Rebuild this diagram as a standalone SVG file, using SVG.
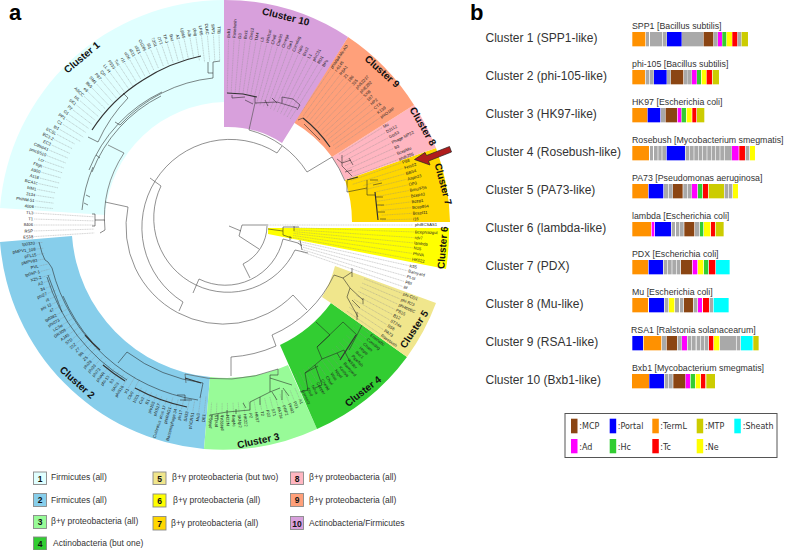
<svg xmlns="http://www.w3.org/2000/svg" width="787" height="550" viewBox="0 0 787 550">
<style>
text{font-family:"Liberation Sans",Arial,sans-serif;fill:#222}
.big{font-weight:bold;font-size:22px;fill:#000}
.cl{font-weight:bold;font-size:10px;text-anchor:middle;fill:#111}
.name{font-size:12px;fill:#333}
.ttl{font-size:8.8px;fill:#333}
.lg{font-size:8.5px;fill:#333}
.num{font-size:8.5px;font-weight:bold;text-anchor:middle;fill:#111}
.key{font-family:"DejaVu Sans",sans-serif;font-size:8px;fill:#333}
.sq{stroke:#888;stroke-width:.9}
.leaf text{font-size:4.2px;fill:#222}
.leaf path{fill:none;stroke:#8a8a8a;stroke-width:.35;stroke-dasharray:1.2 .5}
.L text{text-anchor:end}
.bb path{fill:none;stroke:#555;stroke-width:.65}
.tr path{fill:none;stroke:#222;stroke-width:.55}
.tr .th{stroke-width:1.2;stroke:#333}
.o{fill:#FF9100}.u{fill:#0000FF}.b{fill:#8B4513}.g{fill:#A9A9A9}.m{fill:#FF00FF}.n{fill:#32CD32}.y{fill:#FFFF00}.r{fill:#FF0000}.v{fill:#CCCC00}.c{fill:#00FFFF}
</style>
<text class="big" x="9" y="20">a</text>
<text class="big" x="470" y="20">b</text>

<g id="cluster1">
<path fill="#E0FFFF" d="M0 208A225 225 0 0 1 224 0L224 102A123 123 0 0 0 105 215Z"/>
<g class="leaf L" transform="translate(224 225)">
<g transform="rotate(5.5)"><path d="M-190 0H-172"/><text x="-191" y="1.4">4006</text></g>
<g transform="rotate(7.3)"><path d="M-190 0H-172"/><text x="-191" y="1.4">PhiNM-51</text></g>
<g transform="rotate(9)"><path d="M-190 0H-172"/><text x="-191" y="1.4">3134</text></g>
<g transform="rotate(10.8)"><path d="M-190 0H-172"/><text x="-191" y="1.4">bIM1</text></g>
<g transform="rotate(12.6)"><path d="M-190 0H-170"/><text x="-191" y="1.4">BCA1c</text></g>
<g transform="rotate(14.3)"><path d="M-190 0H-170"/><text x="-191" y="1.4">A118</text></g>
<g transform="rotate(16.1)"><path d="M-190 0H-170"/><text x="-191" y="1.4">A500</text></g>
<g transform="rotate(17.9)"><path d="M-190 0H-170"/><text x="-191" y="1.4">Ffigh</text></g>
<g transform="rotate(19.6)"><path d="M-190 0H-170"/><text x="-191" y="1.4">Lcr</text></g>
<g transform="rotate(21.4)"><path d="M-190 0H-170"/><text x="-191" y="1.4">pmcE510</text></g>
<g transform="rotate(23.2)"><path d="M-190 0H-170"/><text x="-191" y="1.4">Cdtsp41</text></g>
<g transform="rotate(24.9)"><path d="M-190 0H-170"/><text x="-191" y="1.4">EC3</text></g>
<g transform="rotate(26.7)"><path d="M-190 0H-170"/><text x="-191" y="1.4">EC3-2</text></g>
<g transform="rotate(28.5)"><path d="M-190 0H-170"/><text x="-191" y="1.4">ECSL</text></g>
<g transform="rotate(30.2)"><path d="M-190 0H-166"/><text x="-191" y="1.4">Ip1</text></g>
<g transform="rotate(32)"><path d="M-190 0H-166"/><text x="-191" y="1.4">C1</text></g>
<g transform="rotate(33.8)"><path d="M-190 0H-166"/><text x="-191" y="1.4">PP1</text></g>
<g transform="rotate(35.5)"><path d="M-190 0H-166"/><text x="-191" y="1.4">G1</text></g>
<g transform="rotate(37.3)"><path d="M-190 0H-166"/><text x="-191" y="1.4">P2</text></g>
<g transform="rotate(39.1)"><path d="M-190 0H-166"/><text x="-191" y="1.4">SK1</text></g>
<g transform="rotate(40.8)"><path d="M-190 0H-166"/><text x="-191" y="1.4">bIL</text></g>
<g transform="rotate(42.6)"><path d="M-190 0H-166"/><text x="-191" y="1.4">ASCC</text></g>
<g transform="rotate(44.4)"><path d="M-190 0H-166"/><text x="-191" y="1.4">e6</text></g>
<g transform="rotate(46.1)"><path d="M-190 0H-166"/><text x="-191" y="1.4">Bk5</text></g>
<g transform="rotate(47.9)"><path d="M-190 0H-166"/><text x="-191" y="1.4">SM1</text></g>
<g transform="rotate(49.7)"><path d="M-190 0H-166"/><text x="-191" y="1.4">P87</text></g>
<g transform="rotate(51.4)"><path d="M-190 0H-166"/><text x="-191" y="1.4">QP</text></g>
<g transform="rotate(53.2)"><path d="M-190 0H-166"/><text x="-191" y="1.4">LL-H</text></g>
<g transform="rotate(55)"><path d="M-190 0H-166"/><text x="-191" y="1.4">P335</text></g>
<g transform="rotate(56.7)"><path d="M-190 0H-166"/><text x="-191" y="1.4">Tuc</text></g>
<g transform="rotate(58.5)"><path d="M-190 0H-168"/><text x="-191" y="1.4">r1t</text></g>
<g transform="rotate(60.3)"><path d="M-190 0H-168"/><text x="-191" y="1.4">ul36</text></g>
<g transform="rotate(62)"><path d="M-190 0H-168"/><text x="-191" y="1.4">sfi11</text></g>
<g transform="rotate(63.8)"><path d="M-190 0H-168"/><text x="-191" y="1.4">sfi21</text></g>
<g transform="rotate(65.6)"><path d="M-190 0H-170"/><text x="-191" y="1.4">O1205</text></g>
<g transform="rotate(67.3)"><path d="M-190 0H-170"/><text x="-191" y="1.4">Sl1</text></g>
<g transform="rotate(69.1)"><path d="M-190 0H-170"/><text x="-191" y="1.4">7201</text></g>
<g transform="rotate(70.9)"><path d="M-190 0H-170"/><text x="-191" y="1.4">DT1</text></g>
<g transform="rotate(72.6)"><path d="M-190 0H-170"/><text x="-191" y="1.4">TP-J</text></g>
<g transform="rotate(74.4)"><path d="M-190 0H-170"/><text x="-191" y="1.4">Bxz</text></g>
<g transform="rotate(76.2)"><path d="M-190 0H-170"/><text x="-191" y="1.4">A2</text></g>
<g transform="rotate(77.9)"><path d="M-190 0H-170"/><text x="-191" y="1.4">Lj965</text></g>
<g transform="rotate(79.7)"><path d="M-190 0H-170"/><text x="-191" y="1.4">Adh</text></g>
<g transform="rotate(81.5)"><path d="M-190 0H-166"/><text x="-191" y="1.4">phig</text></g>
<g transform="rotate(83.2)"><path d="M-190 0H-164"/><text x="-191" y="1.4">LP65</text></g>
<g transform="rotate(85)"><path d="M-190 0H-164"/><text x="-191" y="1.4">DLKC</text></g>
<g transform="rotate(86.8)"><path d="M-190 0H-164"/><text x="-191" y="1.4">SPP1</text></g>
<g transform="rotate(88.5)"><path d="M-190 0H-164"/><text x="-191" y="1.4">TTB</text></g>
</g>
<text class="cl" transform="translate(84 60) rotate(-40)">Cluster 1</text>
</g>

<g id="cluster-other" class="leaf L" transform="translate(224 225)">
<g transform="rotate(3.6)"><path d="M-190 0H-130"/><text x="-191" y="1.4">TL3</text></g>
<g transform="rotate(1.8)"><path d="M-190 0H-130"/><text x="-191" y="1.4">T1</text></g>
<g><path d="M-190 0H-130"/><text x="-191" y="1.4">8406</text></g>
<g transform="rotate(-1.8)"><path d="M-190 0H-130"/><text x="-191" y="1.4">RSP</text></g>
<g transform="rotate(-3.5)"><path d="M-190 0H-130"/><text x="-191" y="1.4">ES18</text></g>
</g>

<g id="cluster2">
<path fill="#87CEEB" d="M204 449A225 225 0 0 1 0 242L72 236A153 153 0 0 0 210 377Z"/>
<g class="leaf L" transform="translate(224 225)">
<g transform="rotate(-84)"><path d="M-189 0H-172"/><text x="-190" y="1.4">DE1</text></g>
<g transform="rotate(-82.3)"><path d="M-189 0H-172"/><text x="-190" y="1.4">Mu3</text></g>
<g transform="rotate(-80.5)"><path d="M-189 0H-178"/><text x="-190" y="1.4">phiCRS1</text></g>
<g transform="rotate(-78.8)"><path d="M-189 0H-178"/><text x="-190" y="1.4">SA33</text></g>
<g transform="rotate(-77)"><path d="M-189 0H-178"/><text x="-190" y="1.4">phi17</text></g>
<g transform="rotate(-75.3)"><path d="M-189 0H-180"/><text x="-190" y="1.4">Bacteriophage 34</text></g>
<g transform="rotate(-73.5)"><path d="M-189 0H-180"/><text x="-190" y="1.4">phiRAG1</text></g>
<g transform="rotate(-71.8)"><path d="M-189 0H-182"/><text x="-190" y="1.4">Cuthrotus virus 17</text></g>
<g transform="rotate(-70)"><path d="M-189 0H-182"/><text x="-190" y="1.4">phiS17</text></g>
<g transform="rotate(-68.3)"><path d="M-189 0H-182"/><text x="-190" y="1.4">phi105</text></g>
<g transform="rotate(-66.6)"><path d="M-189 0H-182"/><text x="-190" y="1.4">B1</text></g>
<g transform="rotate(-64.8)"><path d="M-189 0H-182"/><text x="-190" y="1.4">Cv2</text></g>
<g transform="rotate(-63.1)"><path d="M-189 0H-182"/><text x="-190" y="1.4">1001</text></g>
<g transform="rotate(-61.3)"><path d="M-189 0H-176"/><text x="-190" y="1.4">Cfv9</text></g>
<g transform="rotate(-59.6)"><path d="M-189 0H-176"/><text x="-190" y="1.4">X1</text></g>
<g transform="rotate(-57.8)"><path d="M-189 0H-180"/><text x="-190" y="1.4">phiS16</text></g>
<g transform="rotate(-56.1)"><path d="M-189 0H-180"/><text x="-190" y="1.4">SA03</text></g>
<g transform="rotate(-54.3)"><path d="M-189 0H-180"/><text x="-190" y="1.4">93</text></g>
<g transform="rotate(-52.6)"><path d="M-189 0H-180"/><text x="-190" y="1.4">phi-13</text></g>
<g transform="rotate(-50.9)"><path d="M-189 0H-180"/><text x="-190" y="1.4">phiAR</text></g>
<g transform="rotate(-49.1)"><path d="M-189 0H-180"/><text x="-190" y="1.4">phi73</text></g>
<g transform="rotate(-47.4)"><path d="M-189 0H-180"/><text x="-190" y="1.4">phi39</text></g>
<g transform="rotate(-45.6)"><path d="M-189 0H-180"/><text x="-190" y="1.4">phi28</text></g>
<g transform="rotate(-43.9)"><path d="M-189 0H-178"/><text x="-190" y="1.4">Z5</text></g>
<g transform="rotate(-42.1)"><path d="M-189 0H-178"/><text x="-190" y="1.4">9R</text></g>
<g transform="rotate(-40.4)"><path d="M-189 0H-178"/><text x="-190" y="1.4">Z7</text></g>
<g transform="rotate(-38.7)"><path d="M-189 0H-178"/><text x="-190" y="1.4">22Z</text></g>
<g transform="rotate(-36.9)"><path d="M-189 0H-178"/><text x="-190" y="1.4">57D</text></g>
<g transform="rotate(-35.2)"><path d="M-189 0H-178"/><text x="-190" y="1.4">AJ45</text></g>
<g transform="rotate(-33.4)"><path d="M-189 0H-178"/><text x="-190" y="1.4">GR309</text></g>
<g transform="rotate(-31.7)"><path d="M-189 0H-178"/><text x="-190" y="1.4">LC3w</text></g>
<g transform="rotate(-29.9)"><path d="M-189 0H-178"/><text x="-190" y="1.4">phi073</text></g>
<g transform="rotate(-28.2)"><path d="M-189 0H-178"/><text x="-190" y="1.4">tp0382</text></g>
<g transform="rotate(-26.4)"><path d="M-189 0H-180"/><text x="-190" y="1.4">47</text></g>
<g transform="rotate(-24.7)"><path d="M-189 0H-180"/><text x="-190" y="1.4">phi 12</text></g>
<g transform="rotate(-23)"><path d="M-189 0H-180"/><text x="-190" y="1.4">rlt</text></g>
<g transform="rotate(-21.2)"><path d="M-189 0H-180"/><text x="-190" y="1.4">phi27</text></g>
<g transform="rotate(-19.5)"><path d="M-189 0H-182"/><text x="-190" y="1.4">34</text></g>
<g transform="rotate(-17.7)"><path d="M-189 0H-182"/><text x="-190" y="1.4">A2</text></g>
<g transform="rotate(-16)"><path d="M-189 0H-180"/><text x="-190" y="1.4">X25-2</text></g>
<g transform="rotate(-14.2)"><path d="M-189 0H-180"/><text x="-190" y="1.4">tp0SP-1</text></g>
<g transform="rotate(-12.5)"><path d="M-189 0H-180"/><text x="-190" y="1.4">PVL</text></g>
<g transform="rotate(-10.7)"><path d="M-189 0H-182"/><text x="-190" y="1.4">pMPV83</text></g>
<g transform="rotate(-9)"><path d="M-189 0H-182"/><text x="-190" y="1.4">pFL15</text></g>
<g transform="rotate(-7.3)"><path d="M-189 0H-182"/><text x="-190" y="1.4">pMPV1_108</text></g>
<g transform="rotate(-5.5)"><path d="M-189 0H-182"/><text x="-190" y="1.4">tp0320</text></g>
</g>
<text class="cl" transform="translate(75 385) rotate(42)">Cluster 2</text>
</g>

<g id="cluster3">
<path fill="#98FB98" d="M317 429A225 225 0 0 1 204 449L210 377A153 153 0 0 0 288 365Z"/>
<g class="leaf" transform="translate(224 225)">
<g transform="rotate(66.5)"><path d="M178 0H189"/><text x="190" y="1.4">A1</text></g>
<g transform="rotate(68.2)"><path d="M178 0H189"/><text x="190" y="1.4">P21</text></g>
<g transform="rotate(69.9)"><path d="M178 0H189"/><text x="190" y="1.4">PH82</text></g>
<g transform="rotate(71.7)"><path d="M178 0H189"/><text x="190" y="1.4">PRF2</text></g>
<g transform="rotate(73.4)"><path d="M178 0H189"/><text x="190" y="1.4">PA73c</text></g>
<g transform="rotate(75.1)"><path d="M178 0H189"/><text x="190" y="1.4">ST1</text></g>
<g transform="rotate(76.8)"><path d="M178 0H189"/><text x="190" y="1.4">P22</text></g>
<g transform="rotate(78.5)"><path d="M178 0H189"/><text x="190" y="1.4">T2</text></g>
<g transform="rotate(80.3)"><path d="M178 0H189"/><text x="190" y="1.4">HK97</text></g>
<g transform="rotate(82)"><path d="M178 0H189"/><text x="190" y="1.4">P2</text></g>
<g transform="rotate(83.7)"><path d="M178 0H189"/><text x="190" y="1.4">HK022</text></g>
<g transform="rotate(85.4)"><path d="M178 0H189"/><text x="190" y="1.4">SKNp2</text></g>
<g transform="rotate(87.1)"><path d="M178 0H189"/><text x="190" y="1.4">Bag4c</text></g>
<g transform="rotate(88.9)"><path d="M178 0H189"/><text x="190" y="1.4">N22N</text></g>
</g>
<g class="leaf L" transform="translate(224 225)">
<g transform="rotate(-89.4)"><path d="M-189 0H-178"/><text x="-190" y="1.4">phi92Ab</text></g>
<g transform="rotate(-87.7)"><path d="M-189 0H-178"/><text x="-190" y="1.4">phi115</text></g>
<g transform="rotate(-86)"><path d="M-189 0H-178"/><text x="-190" y="1.4">phi66-2</text></g>
</g>
<text class="cl" transform="translate(259 444) rotate(-12)">Cluster 3</text>
</g>

<g id="cluster4">
<path fill="#32CD32" d="M407 357A225 225 0 0 1 317 429L280 345A133 133 0 0 0 331 303Z"/>
<g class="leaf" transform="translate(224 225)">
<g transform="rotate(36.8)"><path d="M165 0H182"/><text x="183" y="1.4">Erwinabc</text></g>
<g transform="rotate(38.5)"><path d="M165 0H182"/><text x="183" y="1.4">Corndog</text></g>
<g transform="rotate(40.3)"><path d="M165 0H182"/><text x="183" y="1.4">Cham</text></g>
<g transform="rotate(42)"><path d="M165 0H182"/><text x="183" y="1.4">Hope</text></g>
<g transform="rotate(43.7)"><path d="M165 0H182"/><text x="183" y="1.4">Bxz1</text></g>
<g transform="rotate(45.5)"><path d="M165 0H182"/><text x="183" y="1.4">Pipefish</text></g>
<g transform="rotate(47.2)"><path d="M165 0H182"/><text x="183" y="1.4">Wilder</text></g>
<g transform="rotate(48.9)"><path d="M165 0H182"/><text x="183" y="1.4">Barnyard</text></g>
<g transform="rotate(50.7)"><path d="M165 0H182"/><text x="183" y="1.4">Kostya</text></g>
<g transform="rotate(52.4)"><path d="M165 0H182"/><text x="183" y="1.4">Nigel</text></g>
<g transform="rotate(54.1)"><path d="M165 0H182"/><text x="183" y="1.4">Wee</text></g>
<g transform="rotate(55.9)"><path d="M165 0H182"/><text x="183" y="1.4">Charl</text></g>
<g transform="rotate(57.6)"><path d="M165 0H182"/><text x="183" y="1.4">Che9d</text></g>
<g transform="rotate(59.3)"><path d="M165 0H182"/><text x="183" y="1.4">Cooper</text></g>
<g transform="rotate(61.1)"><path d="M165 0H182"/><text x="183" y="1.4">Nova</text></g>
<g transform="rotate(62.8)"><path d="M165 0H182"/><text x="183" y="1.4">Chrd</text></g>
<g transform="rotate(64.5)"><path d="M165 0H182"/><text x="183" y="1.4">Gsneelz</text></g>
</g>
<text class="cl" transform="translate(365 394) rotate(-38)">Cluster 4</text>
</g>

<g id="cluster5">
<path fill="#F0E68C" d="M436 303A225 225 0 0 1 407 357L331 303L322 297A121 121 0 0 0 335 266Z"/>
<g class="leaf" transform="translate(224 225)">
<g transform="rotate(21)"><path d="M150 0H191"/><text x="192" y="1.4">phi-CD1</text></g>
<g transform="rotate(22.8)"><path d="M150 0H191"/><text x="192" y="1.4">phi-R23</text></g>
<g transform="rotate(24.5)"><path d="M150 0H191"/><text x="192" y="1.4">phi4006C</text></g>
<g transform="rotate(26.3)"><path d="M150 0H191"/><text x="192" y="1.4">PB15</text></g>
<g transform="rotate(28)"><path d="M150 0H191"/><text x="192" y="1.4">B12</text></g>
<g transform="rotate(29.8)"><path d="M150 0H191"/><text x="192" y="1.4">ST24a</text></g>
<g transform="rotate(31.5)"><path d="M150 0H191"/><text x="192" y="1.4">SS6</text></g>
<g transform="rotate(33.3)"><path d="M150 0H191"/><text x="192" y="1.4">PA73</text></g>
<g transform="rotate(35)"><path d="M150 0H191"/><text x="192" y="1.4">Rosebush</text></g>
</g>
<text class="cl" transform="translate(417 331) rotate(-57)">Cluster 5</text>
</g>

<g id="unclustered" class="leaf" transform="translate(224 225)">
<g transform="rotate(12.4)"><path d="M76 0H189"/><text x="190" y="1.4">K55</text></g>
<g transform="rotate(14)"><path d="M76 0H189"/><text x="190" y="1.4">Barnyard</text></g>
<g transform="rotate(15.7)"><path d="M82 0H189"/><text x="190" y="1.4">PLot</text></g>
<g transform="rotate(17.4)"><path d="M82 0H189"/><text x="190" y="1.4">PBI</text></g>
<g transform="rotate(19)"><path d="M82 0H189"/><text x="190" y="1.4">Bf</text></g>
<g><path d="M44 0H189"/><text x="191" y="1.4">phiBCSAS1</text></g>
</g>

<g id="cluster6">
<path fill="#FFFF00" d="M449 228A225 225 0 0 1 446 269L268 234A45 45 0 0 0 268 228Z"/>
<g class="leaf" transform="translate(224 225)">
<g transform="rotate(2.1)"><path d="M70 0H190"/><text x="191" y="1.4">BcepNazgul</text></g>
<g transform="rotate(3.8)"><path d="M70 0H190"/><text x="191" y="1.4">rdv7</text></g>
<g transform="rotate(5.4)"><path d="M70 0H190"/><text x="191" y="1.4">lambda</text></g>
<g transform="rotate(6.9)"><path d="M70 0H190"/><text x="191" y="1.4">N15</text></g>
<g transform="rotate(8.6)"><path d="M70 0H190"/><text x="191" y="1.4">PhiVA</text></g>
<g transform="rotate(10.3)"><path d="M70 0H190"/><text x="191" y="1.4">HK022</text></g>
</g>
<text class="cl" transform="translate(446 248) rotate(-85)">Cluster 6</text>
</g>

<g id="cluster7">
<path fill="#FFD700" d="M436 148A225 225 0 0 1 450 222L352 222A128 128 0 0 0 345 180Z"/>
<g class="leaf" transform="translate(224 225)">
<g transform="rotate(-19.3)"><path d="M135 0H188"/><text x="189" y="1.4">P88</text></g>
<g transform="rotate(-17.55)"><path d="M135 0H188"/><text x="189" y="1.4">Fels02</text></g>
<g transform="rotate(-15.8)"><path d="M145 0H188"/><text x="189" y="1.4">BBS4</text></g>
<g transform="rotate(-14.05)"><path d="M145 0H188"/><text x="189" y="1.4">Aaph23</text></g>
<g transform="rotate(-12.3)"><path d="M155 0H188"/><text x="189" y="1.4">OP3</text></g>
<g transform="rotate(-10.55)"><path d="M155 0H188"/><text x="189" y="1.4">Bmu/F56</text></g>
<g transform="rotate(-8.8)"><path d="M155 0H188"/><text x="189" y="1.4">Bcep43</text></g>
<g transform="rotate(-7.05)"><path d="M158 0H188"/><text x="189" y="1.4">Bcep1</text></g>
<g transform="rotate(-5.3)"><path d="M158 0H188"/><text x="189" y="1.4">Bcep864</text></g>
<g transform="rotate(-3.55)"><path d="M158 0H188"/><text x="189" y="1.4">Bcepl11</text></g>
<g transform="rotate(-1.8)"><path d="M158 0H188"/><text x="189" y="1.4">i16</text></g>
</g>
<text class="cl" transform="translate(440 185) rotate(75)">Cluster 7</text>
</g>

<g id="cluster8">
<path fill="#FFB6C1" d="M414 105A225 225 0 0 1 436 148L345 180A129 129 0 0 0 332 157Z"/>
<g class="leaf" transform="translate(224 225)">
<g transform="rotate(-31.6)"><path d="M135 0H186"/><text x="187" y="1.4">Mu</text></g>
<g transform="rotate(-29.8)"><path d="M135 0H186"/><text x="187" y="1.4">D3112</text></g>
<g transform="rotate(-28)"><path d="M135 0H186"/><text x="187" y="1.4">Gts53</text></g>
<g transform="rotate(-26.1)"><path d="M135 0H186"/><text x="187" y="1.4">Phage MP22</text></g>
<g transform="rotate(-24.3)"><path d="M135 0H186"/><text x="187" y="1.4">B3</text></g>
<g transform="rotate(-22.4)"><path d="M135 0H186"/><text x="187" y="1.4">BcepMu</text></g>
<g transform="rotate(-20.6)"><path d="M135 0H186"/><text x="187" y="1.4">phiE255</text></g>
</g>
<text class="cl" transform="translate(420 128) rotate(60)">Cluster 8</text>
</g>

<g id="cluster9">
<path fill="#FFA07A" d="M348 37A225 225 0 0 1 414 105L332 157A127 127 0 0 0 293 122Z"/>
<g class="leaf" transform="translate(224 225)">
<g transform="rotate(-55.6)"><path d="M135 0H189"/><text x="190" y="1.4">phiMbd-Ms-AD</text></g>
<g transform="rotate(-54)"><path d="M135 0H189"/><text x="190" y="1.4">r-6145</text></g>
<g transform="rotate(-52.3)"><path d="M135 0H189"/><text x="190" y="1.4">RSA1</text></g>
<g transform="rotate(-50.7)"><path d="M135 0H189"/><text x="190" y="1.4">21</text></g>
<g transform="rotate(-49.1)"><path d="M135 0H189"/><text x="190" y="1.4">186</text></g>
<g transform="rotate(-47.5)"><path d="M135 0H189"/><text x="190" y="1.4">315</text></g>
<g transform="rotate(-45.9)"><path d="M135 0H189"/><text x="190" y="1.4">phi52237</text></g>
<g transform="rotate(-44.2)"><path d="M135 0H189"/><text x="190" y="1.4">phiE202</text></g>
<g transform="rotate(-42.6)"><path d="M135 0H189"/><text x="190" y="1.4">SXB</text></g>
<g transform="rotate(-41)"><path d="M135 0H189"/><text x="190" y="1.4">187</text></g>
<g transform="rotate(-39.4)"><path d="M135 0H189"/><text x="190" y="1.4">HP2</text></g>
<g transform="rotate(-37.8)"><path d="M135 0H189"/><text x="190" y="1.4">CTX</text></g>
<g transform="rotate(-36.1)"><path d="M135 0H189"/><text x="190" y="1.4">K139</text></g>
<g transform="rotate(-34.5)"><path d="M135 0H189"/><text x="190" y="1.4">phiO18P</text></g>
</g>
<text class="cl" transform="translate(380 74) rotate(42)">Cluster 9</text>
</g>

<g id="cluster10">
<path fill="#D8A0DC" d="M224 0A225 225 0 0 1 348 37L282 143A100 100 0 0 0 224 127Z"/>
<g class="leaf" transform="translate(224 225)">
<g transform="rotate(-88.6)"><path d="M132 0H186"/><text x="187" y="1.4">Bxb1</text></g>
<g transform="rotate(-86.9)"><path d="M132 0H186"/><text x="187" y="1.4">Rosebush</text></g>
<g transform="rotate(-85.2)"><path d="M132 0H186"/><text x="187" y="1.4">D3</text></g>
<g transform="rotate(-83.5)"><path d="M132 0H186"/><text x="187" y="1.4">Bxz1</text></g>
<g transform="rotate(-81.8)"><path d="M132 0H186"/><text x="187" y="1.4">Che12</text></g>
<g transform="rotate(-80.1)"><path d="M132 0H186"/><text x="187" y="1.4">TM4</text></g>
<g transform="rotate(-78.4)"><path d="M132 0H186"/><text x="187" y="1.4">L5</text></g>
<g transform="rotate(-76.7)"><path d="M125 0H186"/><text x="187" y="1.4">Wildcat</text></g>
<g transform="rotate(-75)"><path d="M125 0H186"/><text x="187" y="1.4">Che8</text></g>
<g transform="rotate(-73.3)"><path d="M125 0H186"/><text x="187" y="1.4">Che9d</text></g>
<g transform="rotate(-71.6)"><path d="M125 0H186"/><text x="187" y="1.4">Omega</text></g>
<g transform="rotate(-69.9)"><path d="M125 0H186"/><text x="187" y="1.4">Cjw1</text></g>
<g transform="rotate(-68.2)"><path d="M125 0H186"/><text x="187" y="1.4">Corndog</text></g>
<g transform="rotate(-66.5)"><path d="M125 0H186"/><text x="187" y="1.4">Halo</text></g>
<g transform="rotate(-64.8)"><path d="M125 0H186"/><text x="187" y="1.4">Bxz2</text></g>
<g transform="rotate(-63.1)"><path d="M125 0H186"/><text x="187" y="1.4">L1</text></g>
<g transform="rotate(-61.4)"><path d="M125 0H186"/><text x="187" y="1.4">phiC31</text></g>
<g transform="rotate(-59.7)"><path d="M125 0H186"/><text x="187" y="1.4">RD1</text></g>
<g transform="rotate(-58)"><path d="M125 0H186"/><text x="187" y="1.4">BPs</text></g>
</g>
<text class="cl" transform="translate(285 20) rotate(14)">Cluster 10</text>
</g>

<g id="connectors">
<g class="bb">
<path d="M128 207A97.5 97.5 0 0 0 293 295M128 207L105 202M293 295L307 310"/>
<path d="M272 335A121 121 0 0 0 334 275M272 335L276 346A132 132 0 0 1 231 357V376"/>
<path d="M185 374A152 152 0 0 0 278 369M185 374L186 383M278 369V375"/>
<path d="M183 302A88 88 0 1 1 277 153M183 302L179 311M277 153L282 146"/>
<path d="M249 130A98 98 0 0 1 307 172M249 130L255 103M307 172L332 157A127 127 0 0 1 345 181"/>
<path d="M150 178L161 186A74 74 0 1 0 295 250L308 253"/>
<path d="M193 293L199 279A59 59 0 0 0 283 239L298 243"/>
<path d="M250 278L243 264A43 43 0 0 0 267 226M259 249L239 236L242 225H268M229 226L241 231"/>
<path d="M105 230A119 119 0 0 1 124 153L108 145"/>
</g>
<g class="tr">
<path class="th" d="M92 130A164 164 0 0 1 143 80M143 80A170 170 0 0 1 201 56"/>
<path d="M88 137L98 142A152 152 0 0 1 128 98L123 93M115 122L120 125A146 146 0 0 1 213 78V62M208 62V73H213M213 62L220 61"/>
<path d="M89 170A146 146 0 0 1 162 92M92 172A143 143 0 0 1 161 96M82 210A143 143 0 0 1 93 167M96 155L100 158M86 195L90 197M84 203L88 205M105 220L95 220M95 214V226M95 214H92M95 226H92M105 230L100 233"/>
<path d="M127 352A160 160 0 0 0 203 383L200 398M127 352L118 363M52 268A177 177 0 0 0 198 400M47 277A183 183 0 0 0 127 380M63 296A176 176 0 0 0 92 342M39 242L42 253L45 260L48 262L52 268M48 275L62 312M177 395H185V401M180 400H192"/>
<path class="th" d="M103 365A185 185 0 0 0 125 381M135 388A186 186 0 0 0 187 407M85 335A175 175 0 0 0 100 350M185 378L201 383"/>
<path d="M278 375H270V392L250 402V410L227 412L210 415M270 378L292 385M270 392L280 388M282 390V400M227 410V416M236 409V414M243 403L246 408M260 397V405M272 392L277 400M283 388L289 396M212 415V420M218 414V420"/>
<path d="M316 322L330 335L317 347L322 359L315 365L305 373L308 390M315 365L322 385M322 359L337 353L340 358M337 353L344 350L350 362M317 347L343 322L357 335L349 350M357 335L362 325M305 373L318 366M308 390L300 392M322 385L315 388"/>
<path class="th" d="M356 335L340 360"/>
<path d="M334 275L343 278L352 272M352 268V277M343 278L350 288L347 297L358 317M350 288L363 300M352 300L360 308M363 298V304M357 312V320"/>
<path d="M268 229L283 231M283 227V235M283 227H299M294 226V231M283 235L292 238M290 236V240M298 243L302 246M300 240L302 250"/>
<path class="th" d="M347 180L358 177M375 192L378 220"/>
<path d="M347 181V192L367 188M367 180V195H375M375 197H383M377 205H384M378 212H385M380 219H386M373 185L382 183M370 180H378"/>
<path d="M337 159L342 163L351 160M342 155V166M349 158L353 165M342 166L346 170L352 176M345 172L352 170"/>
<path class="th" d="M303 118A133 133 0 0 1 330 147M227 93L243 94L257 97"/>
<path d="M304 124L320 140M298 120L303 118M232 95V98L245 97M245 100L253 104M255 103L277 102L297 108M282 97L293 99M282 97V103M293 99L300 105L297 110M265 100L268 106M272 98L277 103M255 103V97"/>
</g>
</g>

<polygon id="arrow" points="414.5,159.5 425,152.5 426.5,155.5 449.5,146.5 451.5,152 428.5,161 430,165" fill="#B01C1C" stroke="#222" stroke-width=".7"/>

<g id="legend-a">
<rect class="sq" x="33.5" y="472" width="13" height="12.5" fill="#E0FFFF"/><text class="num" x="40" y="481.5">1</text><text class="lg" x="51" y="480">Firmicutes (all)</text>
<rect class="sq" x="33.5" y="493.5" width="13" height="13" fill="#87CEEB"/><text class="num" x="40" y="503">2</text><text class="lg" x="51" y="502.5">Firmicutes (all)</text>
<rect class="sq" x="33.5" y="515.5" width="13" height="13" fill="#98FB98"/><text class="num" x="40" y="524.5">3</text><text class="lg" x="51" y="524">β+γ proteobacteria (all)</text>
<rect class="sq" x="33.5" y="537" width="13" height="13" fill="#32CD32"/><text class="num" x="40" y="546.5">4</text><text class="lg" x="53" y="545.7">Actinobacteria (but one)</text>
<rect class="sq" x="153" y="472" width="13" height="12.5" fill="#F0E68C"/><text class="num" x="159.5" y="481.5">5</text><text class="lg" x="172" y="480">β+γ proteobacteria (but two)</text>
<rect class="sq" x="153" y="494" width="13" height="13" fill="#FFFF00"/><text class="num" x="159.5" y="503.5">6</text><text class="lg" x="173" y="502.5">β+γ proteobacteria (all)</text>
<rect class="sq" x="153" y="516.5" width="13" height="13.5" fill="#FFD700"/><text class="num" x="159.5" y="526.5">7</text><text class="lg" x="171" y="526">β+γ proteobacteria (all)</text>
<rect class="sq" x="290.5" y="472" width="13" height="12.5" fill="#FFB6C1"/><text class="num" x="297" y="481.5">8</text><text class="lg" x="309" y="480">β+γ proteobacteria (all)</text>
<rect class="sq" x="290.5" y="493.5" width="13" height="13" fill="#FFA07A"/><text class="num" x="297" y="503">9</text><text class="lg" x="309" y="502.5">β+γ proteobacteria (all)</text>
<rect class="sq" x="290.5" y="516.5" width="13" height="13" fill="#D8A0DC"/><text class="num" x="297" y="526.5">10</text><text class="lg" x="309" y="526">Actinobacteria/Firmicutes</text>
</g>

<g id="panel-b">
<g id="row1"><text class="name" x="485.5" y="42">Cluster 1 (SPP1-like)</text><text class="ttl" x="632" y="29">SPP1 [Bacillus subtilis]</text>
<g transform="translate(470 32) scale(.3333)"><rect class="o" x="487" width="39" height="43"/><rect class="g" x="528" width="9" height="43"/><rect class="g" x="540" width="37" height="43"/><rect class="g" x="579" width="11" height="43"/><rect class="u" x="591" width="44" height="43"/><rect class="g" x="636" width="64" height="43"/><rect class="b" x="701" width="29" height="43"/><rect class="g" x="731" width="12" height="43"/><rect class="m" x="744" width="12" height="43"/><rect class="n" x="757" width="12" height="43"/><rect class="y" x="770" width="16" height="43"/><rect class="r" x="787" width="15" height="43"/><rect class="g" x="803" width="11" height="43"/><rect class="v" x="815" width="19" height="43"/></g></g>
<g id="row2"><text class="name" x="485.5" y="80">Cluster 2 (phi-105-like)</text><text class="ttl" x="632" y="67">phi-105 [Bacillus subtilis]</text>
<g transform="translate(470 70) scale(.3333)"><rect class="o" x="487" width="38" height="43"/><rect class="g" x="527" width="11" height="43"/><rect class="g" x="540" width="11" height="43"/><rect class="u" x="552" width="38" height="43"/><rect class="g" x="591" width="11" height="43"/><rect class="b" x="603" width="37" height="43"/><rect class="g" x="642" width="11" height="43"/><rect class="g" x="654" width="11" height="43"/><rect class="m" x="666" width="14" height="43"/><rect class="n" x="681" width="12" height="43"/><rect class="y" x="695" width="14" height="43"/><rect class="r" x="710" width="16" height="43"/><rect class="v" x="728" width="19" height="43"/></g></g>
<g id="row3"><text class="name" x="485.5" y="118">Cluster 3 (HK97-like)</text><text class="ttl" x="632" y="105">HK97 [Escherichia coli]</text>
<g transform="translate(470 108) scale(.3333)"><rect class="o" x="487" width="45" height="43"/><rect class="u" x="533" width="38" height="43"/><rect class="g" x="573" width="13" height="43"/><rect class="b" x="587" width="34" height="43"/><rect class="m" x="623" width="11" height="43"/><rect class="n" x="635" width="13" height="43"/><rect class="y" x="650" width="15" height="43"/><rect class="r" x="667" width="12" height="43"/><rect class="v" x="681" width="22" height="43"/></g></g>
<g id="row4"><text class="name" x="485.5" y="156">Cluster 4 (Rosebush-like)</text><text class="ttl" x="632" y="143">Rosebush [Mycobacterium smegmatis]</text>
<g transform="translate(470 146) scale(.3333)"><rect class="o" x="487" width="50" height="43"/><rect class="g" x="540" width="9" height="43"/><rect class="g" x="552" width="11" height="43"/><rect class="g" x="565" width="10" height="43"/><rect class="g" x="577" width="11" height="43"/><rect class="u" x="590" width="55" height="43"/><rect class="g" x="647" width="11" height="43"/><rect class="g" x="660" width="11" height="43"/><rect class="g" x="673" width="11" height="43"/><rect class="g" x="686" width="11" height="43"/><rect class="g" x="699" width="11" height="43"/><rect class="g" x="712" width="11" height="43"/><rect class="g" x="725" width="11" height="43"/><rect class="g" x="738" width="11" height="43"/><rect class="g" x="751" width="11" height="43"/><rect class="g" x="764" width="21" height="43"/><rect class="m" x="786" width="20" height="43"/><rect class="r" x="808" width="17" height="43"/><rect class="g" x="827" width="11" height="43"/><rect class="y" x="840" width="15" height="43"/></g></g>
<g id="row5"><text class="name" x="485.5" y="194">Cluster 5 (PA73-like)</text><text class="ttl" x="632" y="181">PA73 [Pseudomonas aeruginosa]</text>
<g transform="translate(470 184) scale(.3333)"><rect class="o" x="487" width="47" height="43"/><rect class="u" x="536" width="44" height="43"/><rect class="g" x="582" width="13" height="43"/><rect class="g" x="597" width="11" height="43"/><rect class="b" x="609" width="29" height="43"/><rect class="g" x="640" width="12" height="43"/><rect class="g" x="654" width="11" height="43"/><rect class="m" x="666" width="16" height="43"/><rect class="n" x="684" width="13" height="43"/><rect class="r" x="699" width="15" height="43"/><rect class="v" x="716" width="46" height="43"/><rect class="g" x="764" width="11" height="43"/><rect class="g" x="777" width="10" height="43"/><rect class="y" x="789" width="15" height="43"/></g></g>
<g id="row6"><text class="name" x="485.5" y="232">Cluster 6 (lambda-like)</text><text class="ttl" x="632" y="219">lambda [Escherichia coli]</text>
<g transform="translate(470 222) scale(.3333)"><rect class="o" x="487" width="56" height="43"/><rect class="m" x="545" width="8" height="43"/><rect class="u" x="555" width="48" height="43"/><rect class="g" x="605" width="10" height="43"/><rect class="g" x="618" width="10" height="43"/><rect class="g" x="630" width="11" height="43"/><rect class="b" x="643" width="30" height="43"/><rect class="g" x="675" width="13" height="43"/><rect class="n" x="690" width="10" height="43"/><rect class="y" x="702" width="19" height="43"/><rect class="r" x="723" width="12" height="43"/><rect class="v" x="737" width="24" height="43"/></g></g>
<g id="row7"><text class="name" x="485.5" y="270">Cluster 7 (PDX)</text><text class="ttl" x="632" y="257">PDX [Escherichia coli]</text>
<g transform="translate(470 260) scale(.3333)"><rect class="o" x="487" width="47" height="43"/><rect class="u" x="536" width="43" height="43"/><rect class="g" x="581" width="11" height="43"/><rect class="g" x="594" width="11" height="43"/><rect class="g" x="607" width="11" height="43"/><rect class="g" x="620" width="11" height="43"/><rect class="b" x="633" width="33" height="43"/><rect class="m" x="668" width="14" height="43"/><rect class="y" x="684" width="16" height="43"/><rect class="n" x="702" width="13" height="43"/><rect class="r" x="717" width="19" height="43"/><rect class="c" x="738" width="41" height="43"/></g></g>
<g id="row8"><text class="name" x="485.5" y="308">Cluster 8 (Mu-like)</text><text class="ttl" x="632" y="295">Mu [Escherichia coli]</text>
<g transform="translate(470 298) scale(.3333)"><rect class="o" x="487" width="47" height="43"/><rect class="u" x="537" width="45" height="43"/><rect class="g" x="584" width="11" height="43"/><rect class="y" x="597" width="16" height="43"/><rect class="g" x="615" width="12" height="43"/><rect class="g" x="630" width="10" height="43"/><rect class="b" x="642" width="27" height="43"/><rect class="g" x="671" width="11" height="43"/><rect class="m" x="684" width="12" height="43"/><rect class="r" x="699" width="18" height="43"/><rect class="g" x="719" width="10" height="43"/><rect class="c" x="731" width="45" height="43"/></g></g>
<g id="row9"><text class="name" x="485.5" y="346">Cluster 9 (RSA1-like)</text><text class="ttl" x="631" y="333">RSA1 [Ralstonia solanacearum]</text>
<g transform="translate(470 336) scale(.3333)"><rect class="u" x="487" width="32" height="43"/><rect class="o" x="521" width="53" height="43"/><rect class="g" x="576" width="12" height="43"/><rect class="b" x="590" width="31" height="43"/><rect class="g" x="623" width="12" height="43"/><rect class="m" x="636" width="15" height="43"/><rect class="g" x="653" width="11" height="43"/><rect class="g" x="666" width="11" height="43"/><rect class="g" x="680" width="10" height="43"/><rect class="g" x="692" width="11" height="43"/><rect class="g" x="705" width="10" height="43"/><rect class="r" x="717" width="13" height="43"/><rect class="y" x="732" width="16" height="43"/><rect class="g" x="750" width="48" height="43"/><rect class="g" x="800" width="11" height="43"/><rect class="c" x="813" width="35" height="43"/><rect class="v" x="850" width="16" height="43"/></g></g>
<g id="row10"><text class="name" x="485.5" y="384">Cluster 10 (Bxb1-like)</text><text class="ttl" x="632" y="371">Bxb1 [Mycobacterium smegmatis]</text>
<g transform="translate(520 374) scale(.3333)"><rect class="o" x="336" width="51" height="43"/><rect class="u" x="388" width="44" height="43"/><rect class="g" x="434" width="11" height="43"/><rect class="g" x="447" width="11" height="43"/><rect class="b" x="460" width="36" height="43"/><rect class="m" x="497" width="13" height="43"/><rect class="n" x="512" width="13" height="43"/><rect class="y" x="527" width="14" height="43"/><rect class="r" x="543" width="13" height="43"/><rect class="v" x="559" width="26" height="43"/></g></g>
</g>

<g id="legend-b">
<rect x="565" y="413.5" width="212" height="44" fill="#fff" stroke="#555"/>
<rect class="b" x="571" y="418.7" width="6.5" height="14.6"/><text class="key" x="579.3" y="429.3">:MCP</text>
<rect class="u" x="609.7" y="418.7" width="6.5" height="14.6"/><text class="key" x="617.7" y="429.3">:Portal</text>
<rect class="o" x="652.3" y="418.7" width="6.5" height="14.6"/><text class="key" x="660.3" y="429.3">:TermL</text>
<rect class="v" x="696.7" y="418.7" width="6.5" height="14.6"/><text class="key" x="705" y="429.3">:MTP</text>
<rect class="c" x="734.3" y="418.7" width="6.5" height="14.6"/><text class="key" x="742.7" y="429.3">:Sheath</text>
<rect class="m" x="571" y="439" width="6.5" height="14.3"/><text class="key" x="579.3" y="449.7">:Ad</text>
<rect class="n" x="609.7" y="439" width="6.5" height="14.3"/><text class="key" x="617.7" y="449.7">:Hc</text>
<rect class="r" x="652.3" y="439" width="6.5" height="14.3"/><text class="key" x="660.3" y="449.7">:Tc</text>
<rect class="y" x="696.7" y="439" width="6.5" height="14.3"/><text class="key" x="705" y="449.7">:Ne</text>
</g>
</svg>
